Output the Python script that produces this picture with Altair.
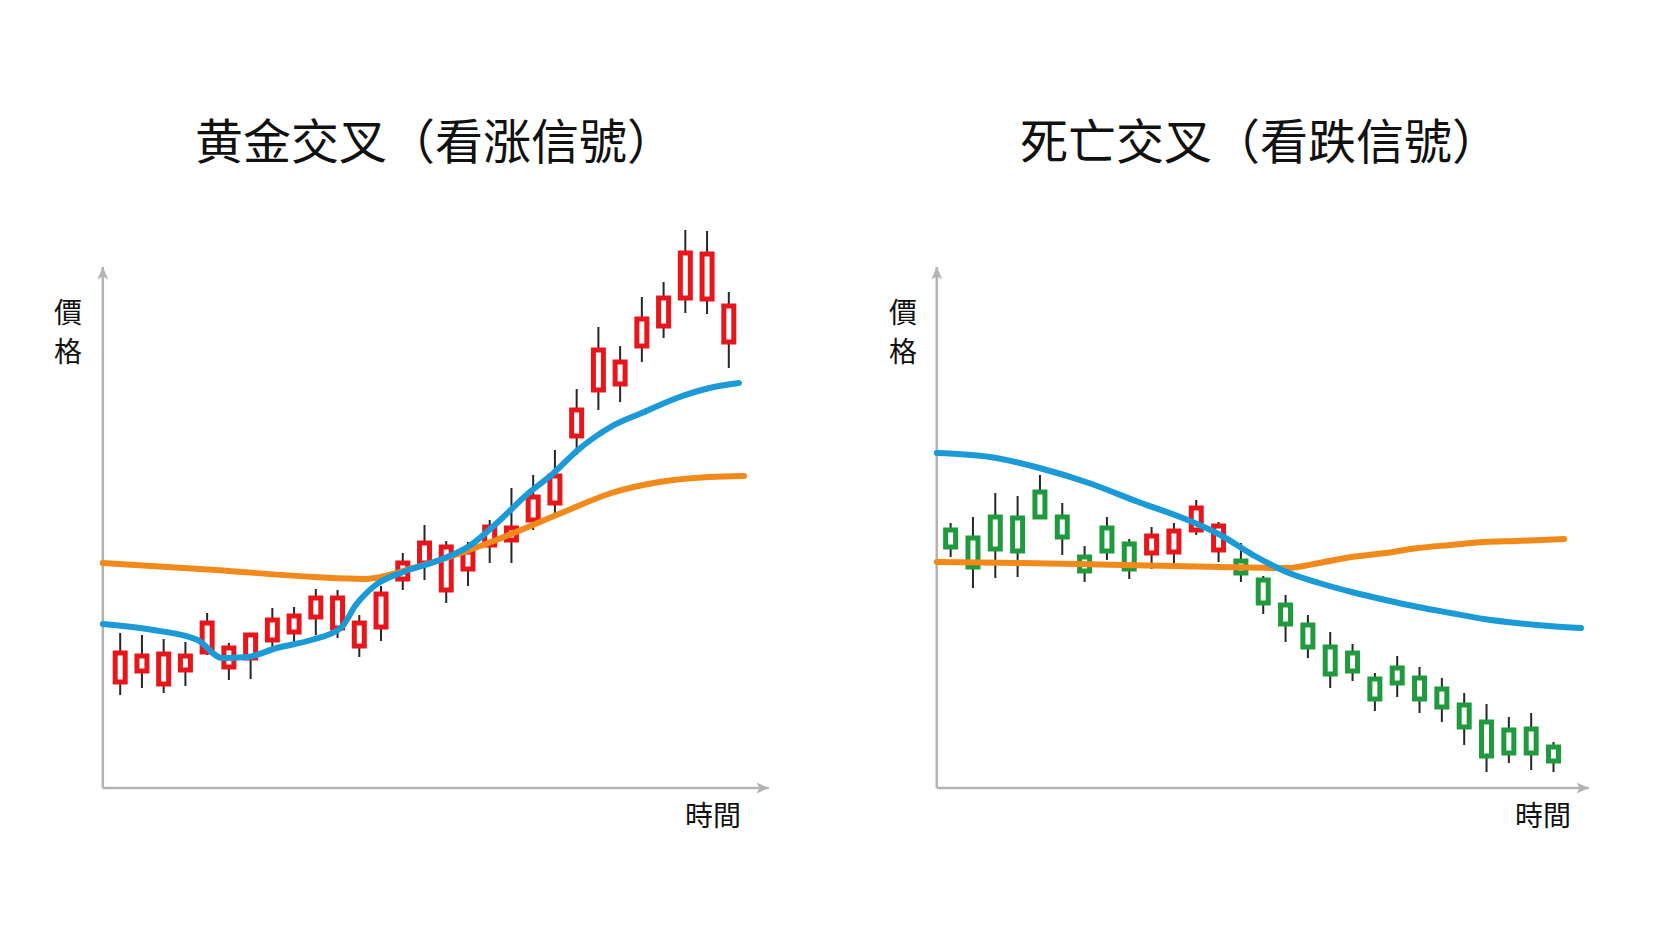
import altair as alt
import pandas as pd
import numpy as np

# ---------------- Golden cross (left panel) ----------------
gc_title = "黄金交叉（看涨信號）"
gc_open = [106, 117, 104, 118, 136, 121, 130, 148, 156, 171, 160, 142, 161, 209, 225,
           198, 219, 243, 248, 268, 285, 352, 398, 404, 442, 462, 490, 489, 446]
gc_close = [135, 132, 134, 132, 165, 140, 153, 168, 172, 190, 190, 165, 194, 225, 245,
            241, 236, 261, 260, 291, 312, 378, 438, 426, 469, 490, 535, 534, 482]
gc_high = [155, 153, 149, 146, 175, 145, 155, 180, 181, 199, 198, 173, 202, 235, 263,
           247, 246, 268, 300, 313, 338, 399, 461, 442, 491, 506, 558, 557, 496]
gc_low = [93, 100, 95, 102, 133, 108, 109, 138, 146, 153, 150, 131, 147, 198, 208,
          185, 202, 225, 225, 258, 275, 333, 378, 386, 426, 450, 475, 474, 420]
gc_fast_t = [0.2, 2.52, 4.56, 5.7, 6.84, 8.2, 9.79, 11.15, 11.84, 12.75, 14.02, 15.7,
             17.06, 18.43, 19.79, 20.84, 22.06, 23.56, 25.11, 26.61, 28.11, 29.47]
gc_fast_v = [164, 158, 148, 130, 131, 140, 148, 160, 183, 203, 216, 228,
             242, 267, 295, 313, 338, 361, 376, 390, 400, 405]
gc_slow_t = [0.2, 5.4, 9.9, 12.2, 14.5, 16.0, 18.3, 21.3, 23.6, 25.8, 28.1, 29.7]
gc_slow_v = [225, 218, 211, 209, 220, 230, 248, 275, 295, 306, 311, 312]

# ---------------- Death cross (right panel) ----------------
dc_title = "死亡交叉（看跌信號）"
dc_open = [258, 250, 271, 270, 296, 271, 231, 260, 244, 235, 236, 258, 238, 227,
           208, 183, 163, 141, 135, 109, 120, 110, 99, 83, 66, 58, 59, 41]
dc_close = [241, 221, 239, 237, 271, 251, 217, 237, 219, 252, 257, 280, 262, 215,
            185, 164, 141, 114, 117, 89, 105, 89, 81, 61, 32, 35, 35, 27]
dc_high = [265, 271, 295, 292, 313, 285, 242, 271, 249, 261, 265, 288, 266, 245,
           212, 193, 173, 156, 144, 115, 132, 121, 110, 95, 84, 71, 75, 46]
dc_low = [231, 200, 210, 211, 269, 233, 206, 228, 209, 219, 225, 253, 226, 206,
          174, 146, 130, 100, 107, 77, 91, 75, 66, 43, 16, 25, 18, 16]
dc_fast_t = [0.38, 2.77, 4.98, 7.19, 9.41, 11.62, 13.08, 14.54, 16.04, 17.5, 18.96,
             20.47, 21.93, 23.39, 24.89, 26.35, 27.81, 29.23]
dc_fast_v = [335, 331, 320, 305, 286, 268, 253, 233, 216, 205, 196,
             188, 181, 175, 169, 165, 162, 160]
dc_slow_t = [0.38, 4.23, 8.65, 13.08, 16.04, 17.5, 18.96, 20.47, 21.93, 23.39, 24.89,
             26.35, 28.48]
dc_slow_v = [226, 225, 223, 221, 220, 225, 231, 235, 240, 243, 246, 247, 249]

y_label_top = "價"
y_label_bottom = "格"
x_label = "時間"

RED = "#e8161b"
GREEN = "#1f9a3c"
BLUE = "#1b9ad8"
ORANGE = "#f2891b"
GRAY = "#b3b3b3"
FONT = "Noto Sans CJK TC"

PW, PH = 833, 937
Y_DOMAIN = [-149, 788]
Y_TIP = 521


def panel(o, c, h, l, fast_t, fast_v, slow_t, slow_v, xdom, x0, xtip, xarrow,
          title, title_x, ylab_x, xlab_x):
    n = len(o)
    df = pd.DataFrame({"t": list(range(1, n + 1)), "open": o, "close": c,
                       "high": h, "low": l})
    df["dir"] = np.where(df["close"] >= df["open"], "up", "down")
    df["top"] = df[["open", "close"]].max(axis=1)
    df["bot"] = df[["open", "close"]].min(axis=1)

    xs = alt.Scale(domain=xdom, nice=False, zero=False)
    ys = alt.Scale(domain=Y_DOMAIN, nice=False, zero=False)

    def X(f):
        return alt.X(f, type="quantitative", scale=xs, axis=None)

    def Y(f):
        return alt.Y(f, type="quantitative", scale=ys, axis=None)

    axes_df = pd.DataFrame({"x": [x0, x0], "x2": [x0, xtip],
                            "y": [0, 0], "y2": [Y_TIP, 0]})
    axes = alt.Chart(axes_df).mark_rule(color=GRAY, strokeWidth=2.5).encode(
        x=X("x"), x2="x2", y=Y("y"), y2="y2")

    up_arrow = alt.Chart(pd.DataFrame({"x": [x0], "y": [Y_TIP - 7]})).mark_point(
        shape="M0,-1L0.75,0.75L0,0.3L-0.75,0.75Z", filled=True, color=GRAY,
        opacity=1, size=210, strokeWidth=0).encode(x=X("x"), y=Y("y"))
    right_arrow = alt.Chart(pd.DataFrame({"x": [xarrow], "y": [0]})).mark_point(
        shape="M1,0L-0.75,0.75L-0.3,0L-0.75,-0.75Z", filled=True, color=GRAY,
        opacity=1, size=210, strokeWidth=0).encode(x=X("x"), y=Y("y"))

    wicks = alt.Chart(df).mark_rule(color="#262626", strokeWidth=2).encode(
        x=X("t"), y=Y("low"), y2="high")
    bodies = alt.Chart(df).mark_bar(size=10, fill="white", strokeWidth=5).encode(
        x=X("t"), y=Y("bot"), y2="top",
        stroke=alt.Stroke("dir:N", scale=alt.Scale(domain=["up", "down"],
                                                    range=[RED, GREEN]),
                          legend=None))

    slow = alt.Chart(pd.DataFrame({"t": slow_t, "v": slow_v})).mark_line(
        color=ORANGE, strokeWidth=6, interpolate="monotone", strokeCap="round").encode(
        x=X("t"), y=Y("v"))
    fast = alt.Chart(pd.DataFrame({"t": fast_t, "v": fast_v})).mark_line(
        color=BLUE, strokeWidth=6, interpolate="monotone", strokeCap="round").encode(
        x=X("t"), y=Y("v"))

    one = pd.DataFrame({"a": [0]})
    title_txt = alt.Chart(one).mark_text(
        text=title, font=FONT, fontSize=48, color="#111111", align="center",
        baseline="middle").encode(x=alt.value(title_x), y=alt.value(145))
    ylab1 = alt.Chart(one).mark_text(
        text=y_label_top, font=FONT, fontSize=28, color="#111111",
        align="center", baseline="middle").encode(x=alt.value(ylab_x), y=alt.value(315))
    ylab2 = alt.Chart(one).mark_text(
        text=y_label_bottom, font=FONT, fontSize=28, color="#111111",
        align="center", baseline="middle").encode(x=alt.value(ylab_x), y=alt.value(354))
    xlab = alt.Chart(one).mark_text(
        text=x_label, font=FONT, fontSize=28, color="#111111", align="center",
        baseline="middle").encode(x=alt.value(xlab_x), y=alt.value(818))

    return alt.layer(axes, up_arrow, right_arrow, wicks, bodies, slow, fast,
                     title_txt, ylab1, ylab2, xlab).properties(width=PW, height=PH)


left = panel(gc_open, gc_close, gc_high, gc_low, gc_fast_t, gc_fast_v,
             gc_slow_t, gc_slow_v,
             xdom=[-4.3, 33.564], x0=0.2, xtip=30.84, xarrow=30.52,
             title=gc_title, title_x=435, ylab_x=68, xlab_x=713)
right = panel(dc_open, dc_close, dc_high, dc_low, dc_fast_t, dc_fast_v,
              dc_slow_t, dc_slow_v,
              xdom=[-4.044, 32.814], x0=0.38, xtip=29.58, xarrow=29.27,
              title=dc_title, title_x=427, ylab_x=70, xlab_x=710)

chart = alt.hconcat(left, right, spacing=0).properties(
    padding=0, background="white"
).configure_view(strokeWidth=0, stroke=None)

chart.save("out.html", embed_options={"renderer": "svg", "actions": False})
